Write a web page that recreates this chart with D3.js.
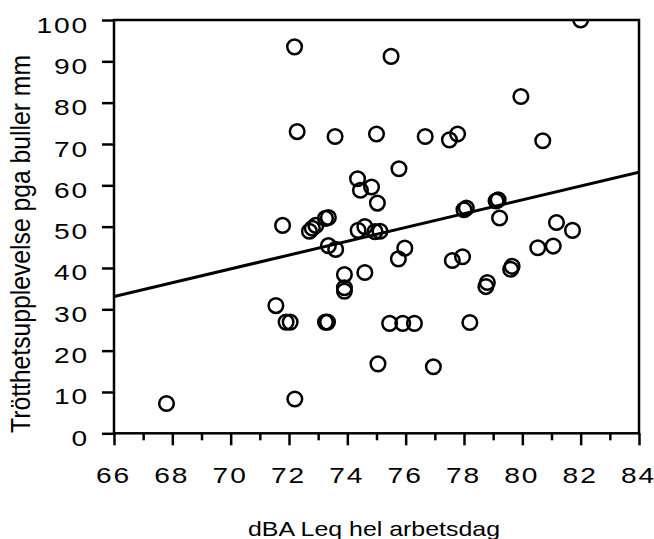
<!DOCTYPE html>
<html>
<head>
<meta charset="utf-8">
<script src="https://cdn.jsdelivr.net/npm/d3@7"></script>
<style>
  html, body { margin: 0; padding: 0; background: #fff; }
  svg { display: block; }
  text { font-family: "Liberation Sans", Arial, Helvetica, sans-serif; fill: #000; }
</style>
</head>
<body>
<svg id="chart" width="654" height="539"></svg>
<script>
// Noise exposure (dBA Leq, full working day) per person
const noiseLevel = [
  67.8, 72.2, 71.55, 71.9, 72.04, 73.25, 73.32, 73.9, 73.9, 73.9,
  74.6, 75.05, 75.45, 75.9, 76.3, 76.95, 78.2, 78.75, 78.8, 79.6,
  79.65, 77.6, 77.95, 75.75, 75.97, 73.35, 73.6, 80.53, 81.06, 81.72,
  81.17, 79.22, 79.1, 79.17, 78.0, 78.08, 74.37, 74.6, 74.95, 75.12,
  73.25, 73.35, 72.7, 72.8, 72.92, 71.78, 75.03, 74.35, 74.45, 74.83,
  75.77, 73.58, 75.0, 76.67, 77.5, 77.78, 80.7, 72.28, 72.19, 75.5,
  79.95, 82.0
];
// Reported fatigue due to noise (VAS, mm)
const fatigue = [
  7.2, 8.3, 30.9, 26.9, 26.9, 26.9, 26.9, 34.4, 35.2, 38.4,
  38.9, 16.8, 26.6, 26.6, 26.6, 16.1, 26.8, 35.5, 36.5, 39.7,
  40.4, 41.8, 42.7, 42.2, 44.8, 45.4, 44.5, 44.9, 45.3, 49.1,
  51.0, 52.1, 56.2, 56.5, 54.1, 54.5, 49.1, 50.0, 48.8, 48.9,
  52.0, 52.2, 48.9, 49.6, 50.3, 50.3, 55.7, 61.6, 58.8, 59.6,
  64.0, 71.8, 72.4, 71.8, 71.0, 72.4, 70.8, 73.0, 93.5, 91.2,
  81.5, 100
];
// Linear fit: fatigue = intercept + slope * dBA
const fitIntercept = -77.26;
const fitSlope = 1.672;

const xDomain = [66, 84];
const yDomain = [0, 100];
const xMajorTicks = [66, 68, 70, 72, 74, 76, 78, 80, 82, 84];
const xMinorTicks = [67, 69, 71, 73, 75, 77, 79, 81, 83];
const yTicks = [0, 10, 20, 30, 40, 50, 60, 70, 80, 90, 100];

const xTitle = "dBA Leq hel arbetsdag";
const yTitle = "Trötthetsupplevelse pga buller mm";

const svg = d3.select("#chart");
const plot = { left: 114, right: 639, top: 20, bottom: 433.3 };
const x = d3.scaleLinear().domain(xDomain).range([plot.left, plot.right]);
const y = d3.scaleLinear().domain(yDomain).range([plot.bottom, plot.top]);

// tick digits are set wide and loosely spaced
const widen = 1.28;
const tickSpacing = 1.5;

svg.append("defs").append("clipPath").attr("id", "plotClip")
  .append("rect").attr("x", plot.left).attr("y", plot.top)
  .attr("width", plot.right - plot.left).attr("height", plot.bottom - plot.top);

// regression line
svg.append("line")
  .attr("x1", x(xDomain[0])).attr("y1", y(fitIntercept + fitSlope * xDomain[0]))
  .attr("x2", x(xDomain[1])).attr("y2", y(fitIntercept + fitSlope * xDomain[1]))
  .attr("stroke", "#000").attr("stroke-width", 3)
  .attr("clip-path", "url(#plotClip)");

// observations
svg.append("g").attr("clip-path", "url(#plotClip)")
  .selectAll("circle")
  .data(d3.range(noiseLevel.length))
  .join("circle")
  .attr("cx", i => x(noiseLevel[i]))
  .attr("cy", i => y(fatigue[i]))
  .attr("r", 7.3)
  .attr("fill", "none")
  .attr("stroke", "#000")
  .attr("stroke-width", 2.5);

// frame
svg.append("rect")
  .attr("x", plot.left).attr("y", plot.top)
  .attr("width", plot.right - plot.left).attr("height", plot.bottom - plot.top)
  .attr("fill", "none").attr("stroke", "#000").attr("stroke-width", 2.5);

function styleAxis(g) {
  g.select(".domain").remove();
  g.selectAll(".tick line").attr("stroke", "#000").attr("stroke-width", 2.5);
}

// space digits apart without trailing space after the last one
function spreadDigits(sel) {
  sel.each(function () {
    const t = d3.select(this);
    const s = t.text();
    t.text(null);
    s.split("").forEach((ch, i) => {
      t.append("tspan").attr("dx", i ? tickSpacing : 0).text(ch);
    });
  });
}

// minor x ticks
svg.append("g")
  .attr("transform", `translate(0,${plot.bottom})`)
  .call(d3.axisBottom(x).tickValues(xMinorTicks).tickSize(7).tickFormat(""))
  .call(styleAxis);

// major x ticks with labels
const gx = svg.append("g")
  .attr("transform", `translate(0,${plot.bottom})`)
  .call(d3.axisBottom(x).tickValues(xMajorTicks).tickSize(12).tickFormat(d3.format("d")))
  .call(styleAxis);
gx.selectAll(".tick text")
  .attr("transform", `scale(${widen},1)`)
  .attr("x", -2 / widen).attr("y", 49.4).attr("dy", 0)
  .attr("font-size", 22)
  .attr("font-family", "'Liberation Sans', Arial, sans-serif")
  .call(spreadDigits);

// y ticks with labels
const gy = svg.append("g")
  .attr("transform", `translate(${plot.left},0)`)
  .call(d3.axisLeft(y).tickValues(yTicks).tickSize(12).tickFormat(d3.format("d")))
  .call(styleAxis);
gy.selectAll(".tick text")
  .attr("transform", `scale(${widen},1)`)
  .attr("x", -26.8 / widen).attr("y", 12).attr("dy", 0)
  .attr("font-size", 22)
  .attr("font-family", "'Liberation Sans', Arial, sans-serif")
  .call(spreadDigits);

// axis titles
svg.append("text")
  .attr("x", 374).attr("y", 536)
  .attr("text-anchor", "middle")
  .attr("font-size", 21)
  .attr("textLength", 252).attr("lengthAdjust", "spacingAndGlyphs")
  .text(xTitle);

svg.append("text")
  .attr("transform", `translate(30,244) scale(1.35,1) rotate(-90)`)
  .attr("text-anchor", "middle")
  .attr("font-size", 21)
  .attr("textLength", 378).attr("lengthAdjust", "spacingAndGlyphs")
  .text(yTitle);
</script>
</body>
</html>
